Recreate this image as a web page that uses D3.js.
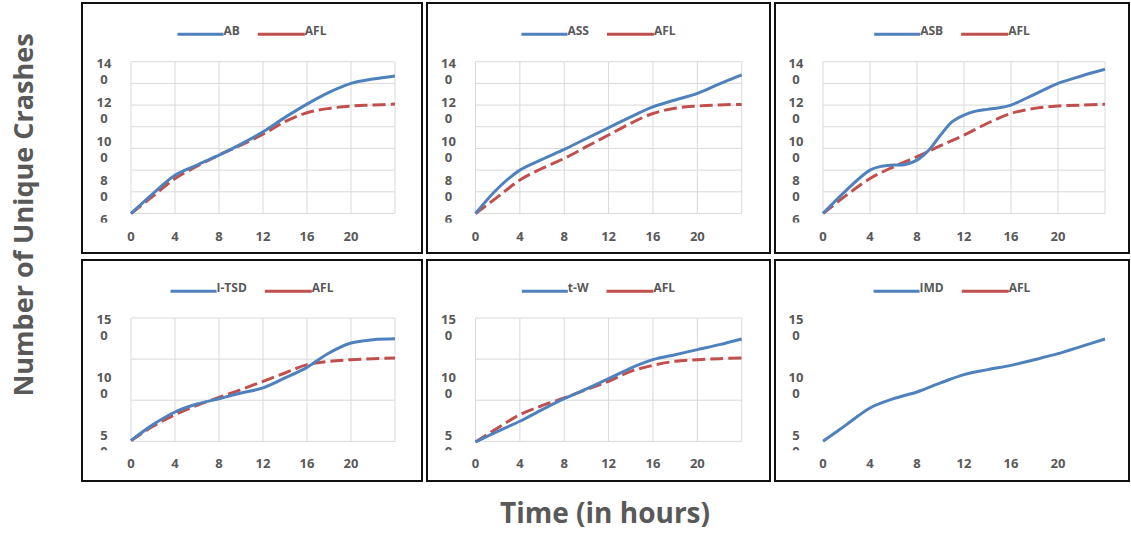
<html><head>
<title>Unique crashes over time</title>
<script src="https://d3js.org/d3.v7.min.js"></script>
<style>
  body { margin: 0; background: #fff; }
  svg text { font-family: "Open Sans", Lato, sans-serif; font-weight: bold; fill: #595959; }
  .grid line { stroke: #d9d9d9; stroke-width: 1; }
  .box { fill: none; stroke: #111; stroke-width: 2; }
  .main { fill: none; stroke: #4f81bd; stroke-width: 3; }
  .afl { fill: none; stroke: #c0504d; stroke-width: 3; stroke-dasharray: 13,5; }
</style>
</head>
<body>
<svg id="chart" width="1131" height="533"></svg>
<script>

// ---- data (hours vs. number of unique crashes) ----
let hours = [0, 2, 4, 6, 8, 10, 12, 14, 16, 18, 20, 22, 24];
let asbHours = [0, 2, 4, 5, 6, 7, 8, 9, 10, 11, 12, 13, 14, 15, 16, 18, 20, 22, 24];

let abCrashes   = [66.9, 77.1, 86.5, 91.7, 96.8, 102.4, 108.7, 116.1, 122.9, 128.9, 133.5, 135.7, 137.3];
let aflWithAB   = [66.9, 75.8, 84.8, 91.1, 96.8, 101.9, 107.5, 113.9, 118.5, 120.7, 121.9, 122.4, 122.9];

let assCrashes  = [66.9, 79.7, 89.1, 94.6, 99.7, 105.3, 110.8, 116.4, 121.5, 125.0, 128.4, 133.3, 137.9];
let aflWithASS  = [66.9, 75.4, 84.0, 90.0, 95.1, 101.1, 107.1, 113.1, 118.1, 120.8, 121.9, 122.5, 122.7];

let asbCrashes  = [66.9, 78.9, 89.1, 91.1, 91.7, 92.0, 94.2, 99.3, 107.0, 113.9, 117.3, 119.3, 120.2, 121.0, 122.4, 127.9, 133.5, 137.3, 140.7];
let aflWithASB  = [66.9, 76.3, 84.8, 90.8, 96.0, 101.6, 107.0, 113.1, 118.1, 120.7, 121.9, 122.4, 122.8];

let itsdCrashes = [52.3, 66.1, 77.0, 83.9, 88.5, 93.4, 97.8, 106.4, 115.6, 128.0, 136.6, 139.5, 140.3];
let aflWithITSD = [52.3, 64.7, 74.7, 82.8, 89.7, 96.3, 103.5, 110.7, 117.9, 120.8, 122.2, 123.1, 123.7];

let twCrashes   = [51.1, 60.3, 69.0, 79.0, 88.5, 96.9, 105.8, 115.0, 122.2, 126.5, 130.9, 135.2, 140.1];
let aflWithTW   = [51.1, 63.2, 74.7, 82.5, 89.1, 96.3, 103.5, 112.1, 117.3, 120.8, 122.2, 123.1, 123.7];

let imdCrashes  = [51.7, 66.1, 80.5, 88.5, 94.3, 102.1, 109.3, 113.6, 117.3, 122.2, 127.4, 133.7, 140.1];

let xTickLabels = [0, 4, 8, 12, 16, 20];
let xGridHours  = [0, 4, 8, 12, 16, 20, 24];
let topYTicks    = [60, 80, 100, 120, 140];
let bottomYTicks = [50, 100, 150];

// ---- layout ----
let svg = d3.select("svg#chart");

let cols = [
  { boxLeft: 82,  boxRight: 422,  plotLeft: 131,   plotRight: 395 },
  { boxLeft: 427, boxRight: 770,  plotLeft: 475.5, plotRight: 741.7 },
  { boxLeft: 775, boxRight: 1129, plotLeft: 823,   plotRight: 1105 }
];
let rows = [
  { boxTop: 3,   boxBottom: 253, plotTop: 61.7, plotBottom: 213.5, legendY: 34.3,  domain: [66.9, 144.6], ticks: topYTicks,    bands: 7 },
  { boxTop: 260, boxBottom: 481, plotTop: 318,  plotBottom: 441.3, legendY: 291.3, domain: [51.7, 158.2], ticks: bottomYTicks, bands: 3 }
];

let panels = [
  { col: 0, row: 0, label: "AB",    grid: true,  main: [hours, abCrashes],    afl: [hours, aflWithAB] },
  { col: 1, row: 0, label: "ASS",   grid: true,  main: [hours, assCrashes],   afl: [hours, aflWithASS] },
  { col: 2, row: 0, label: "ASB",   grid: true,  main: [asbHours, asbCrashes], afl: [hours, aflWithASB] },
  { col: 0, row: 1, label: "I-TSD", grid: true,  main: [hours, itsdCrashes],  afl: [hours, aflWithITSD] },
  { col: 1, row: 1, label: "t-W",   grid: true,  main: [hours, twCrashes],    afl: [hours, aflWithTW] },
  { col: 2, row: 1, label: "IMD",   grid: false, main: [hours, imdCrashes],   afl: null }
];

let defs = svg.append("defs");

panels.forEach(function(p, i) {
  let c = cols[p.col], r = rows[p.row];
  let g = svg.append("g");

  let x = d3.scaleLinear().domain([0, 24]).range([c.plotLeft, c.plotRight]);
  let y = d3.scaleLinear().domain(r.domain).range([r.plotBottom, r.plotTop]);

  // frame around each small chart
  g.append("rect").attr("class", "box")
    .attr("x", c.boxLeft).attr("y", r.boxTop)
    .attr("width", c.boxRight - c.boxLeft).attr("height", r.boxBottom - r.boxTop);

  // gridlines (the IMD panel has none)
  if (p.grid) {
    let grid = g.append("g").attr("class", "grid");
    let step = (r.domain[1] - r.domain[0]) / r.bands;
    let hVals = d3.range(r.bands + 1).map(k => r.domain[0] + k * step);
    grid.selectAll("line.h").data(hVals).enter().append("line").attr("class", "h")
      .attr("x1", c.plotLeft).attr("x2", c.plotRight)
      .attr("y1", d => y(d)).attr("y2", d => y(d));
    grid.selectAll("line.v").data(xGridHours).enter().append("line").attr("class", "v")
      .attr("x1", d => x(d)).attr("x2", d => x(d))
      .attr("y1", r.plotTop).attr("y2", r.plotBottom);
  }

  // y labels wrap onto two lines ("14" / "0"), the lowest one is clipped
  let clipId = "clipY" + i;
  defs.append("clipPath").attr("id", clipId).append("rect")
    .attr("x", c.boxLeft).attr("y", r.boxTop)
    .attr("width", c.plotLeft - c.boxLeft).attr("height", r.plotBottom + 9 - r.boxTop);
  let yLab = g.append("g").attr("clip-path", "url(#" + clipId + ")");
  let labs = yLab.selectAll("text").data(r.ticks).enter().append("text")
    .attr("text-anchor", "middle")
    .attr("font-size", 13);
  labs.append("tspan")
    .attr("x", c.plotLeft - 27).attr("y", d => y(d) - 8).attr("dominant-baseline", "central")
    .text(d => String(d).slice(0, -1));
  labs.append("tspan")
    .attr("x", c.plotLeft - 27).attr("y", d => y(d) + 8).attr("dominant-baseline", "central")
    .text(d => String(d).slice(-1));

  // x labels
  g.selectAll("text.xl").data(xTickLabels).enter().append("text").attr("class", "xl")
    .attr("x", d => x(d)).attr("y", r.plotBottom + 22)
    .attr("text-anchor", "middle").attr("dominant-baseline", "central")
    .attr("font-size", 13)
    .text(d => d);

  // lines
  let line = d3.line().curve(d3.curveCatmullRom.alpha(0.5))
    .x(d => x(d[0])).y(d => y(d[1]));
  if (p.afl) {
    g.append("path").attr("class", "afl")
      .datum(d3.zip(p.afl[0], p.afl[1])).attr("d", line);
  }
  g.append("path").attr("class", "main")
    .datum(d3.zip(p.main[0], p.main[1])).attr("d", line);

  // legend, centred in the frame
  let leg = g.append("g");
  let t1 = leg.append("text").attr("font-size", 12).text(p.label);
  let t2 = leg.append("text").attr("font-size", 12).text("AFL");
  let w1 = t1.node().getComputedTextLength(), w2 = t2.node().getComputedTextLength();
  let total = 46 + w1 + 18 + 47 + w2;
  let lx = (c.boxLeft + c.boxRight) / 2 - total / 2;
  leg.append("line").attr("x1", lx).attr("x2", lx + 46)
    .attr("y1", r.legendY).attr("y2", r.legendY)
    .attr("stroke", "#4f81bd").attr("stroke-width", 3);
  t1.attr("x", lx + 46).attr("y", r.legendY + 1);
  let rx = lx + 46 + w1 + 18;
  leg.append("line").attr("x1", rx).attr("x2", rx + 47)
    .attr("y1", r.legendY).attr("y2", r.legendY)
    .attr("stroke", "#c0504d").attr("stroke-width", 3);
  t2.attr("x", rx + 47).attr("y", r.legendY + 1);
});

// axis titles
svg.append("text")
  .attr("transform", "translate(33,215) rotate(-90)")
  .attr("text-anchor", "middle")
  .attr("font-size", 27)
  .text("Number of Unique Crashes");

svg.append("text")
  .attr("x", 605).attr("y", 523)
  .attr("text-anchor", "middle")
  .attr("font-size", 28)
  .text("Time (in hours)");

</script>
</body>
</html>
